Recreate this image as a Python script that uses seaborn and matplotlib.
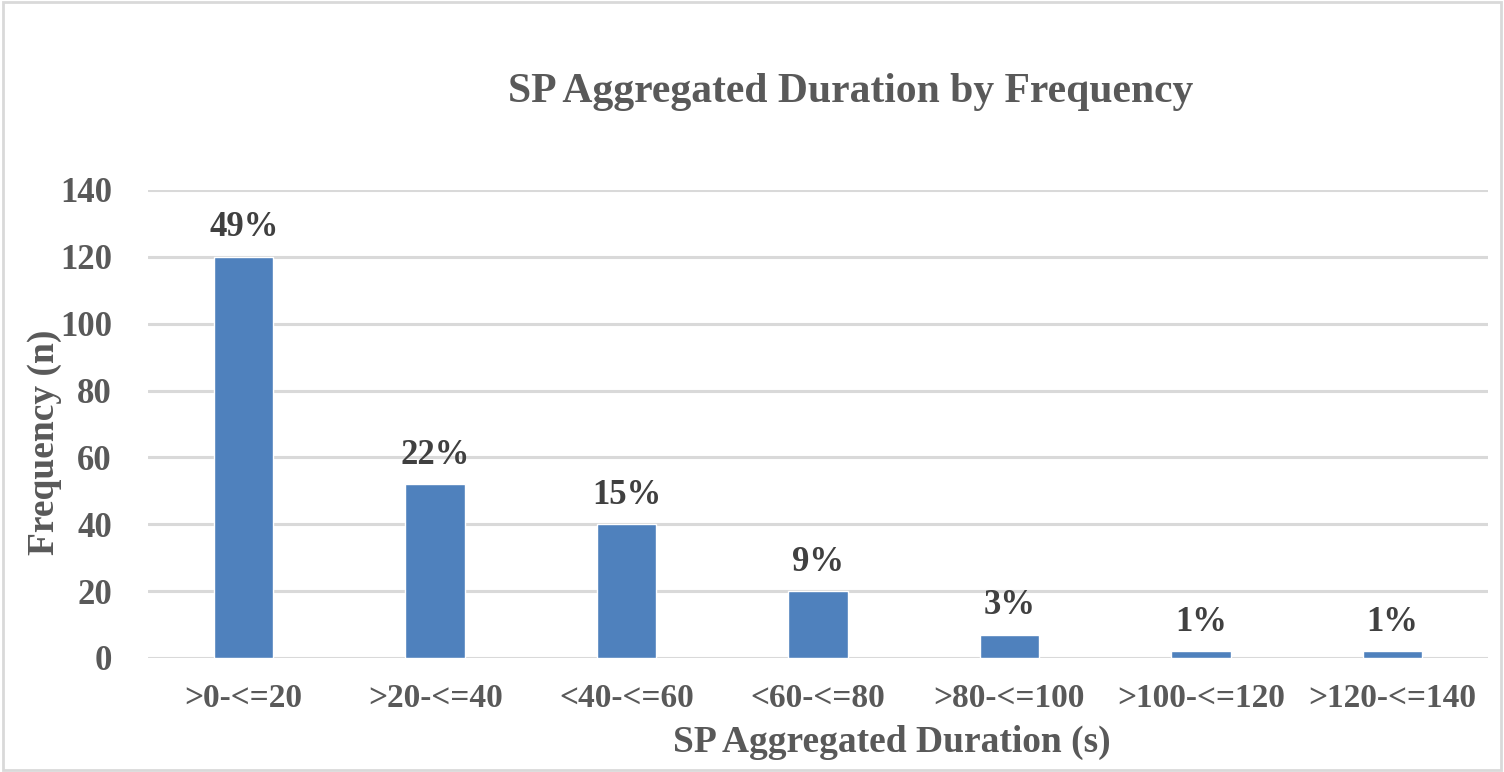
import matplotlib
matplotlib.use("Agg")
import matplotlib.pyplot as plt
import seaborn as sns
import pandas as pd
from matplotlib.patches import Rectangle

categories = [">0-<=20", ">20-<=40", "<40-<=60", "<60-<=80", ">80-<=100", ">100-<=120", ">120-<=140"]
frequency = [120, 52, 40, 20, 7, 2, 2]
pct_labels = ["49%", "22%", "15%", "9%", "3%", "1%", "1%"]
y_ticks = [0, 20, 40, 60, 80, 100, 120, 140]

df = pd.DataFrame({"cat": categories, "freq": frequency})

sns.set_theme(style="white")
plt.rcParams["font.family"] = ["Liberation Serif", "DejaVu Serif"]
plt.rcParams["font.weight"] = "bold"

fig = plt.figure(figsize=(15.04, 7.72), dpi=100)
ax = fig.add_axes([148/1504, 1 - 658/772, (1488-148)/1504, (658-190)/772])

sns.barplot(data=df, x="cat", y="freq", color="#4F81BD", saturation=1, width=0.31, ax=ax, zorder=3)

ax.set_ylim(0, 140)
ax.set_xlim(-0.5, 6.5)
ax.set_yticks(y_ticks)
ax.yaxis.grid(True, color="#D9D9D9", linewidth=2.2, zorder=0)
ax.set_axisbelow(True)
for s in ax.spines.values():
    s.set_visible(False)
ax.tick_params(axis="both", length=0, colors="#595959")
for t in ax.get_yticklabels():
    t.set_fontsize(25); t.set_fontweight("bold")
for t in ax.get_xticklabels():
    t.set_fontsize(24); t.set_fontweight("bold")
ax.tick_params(axis="y", pad=26)
ax.tick_params(axis="x", pad=18)

ax.set_xlabel("SP Aggregated Duration (s)", fontsize=27, fontweight="bold", color="#595959")
ax.xaxis.set_label_coords((892-148)/(1488-148), -(742-658)/(658-190))
ax.xaxis.label.set_va("center")
ax.set_ylabel("Frequency (n)", fontsize=27, fontweight="bold", color="#595959")
ax.yaxis.set_label_coords(-(148-45)/(1488-148), (658-442)/(658-190))
ax.yaxis.label.set_va("center")

for i, (v, lab) in enumerate(zip(frequency, pct_labels)):
    ax.annotate(lab, (i, v), xytext=(0, 9), textcoords="offset points",
                ha="center", va="bottom", fontsize=25, fontweight="bold", color="#404040")

fig.text(851/1504, 1 - 92/772, "SP Aggregated Duration by Frequency", ha="center", va="center",
         fontsize=30, fontweight="bold", color="#595959")

fig.patches.append(Rectangle((0.002, 0.003), 0.996, 0.994, transform=fig.transFigure,
                             fill=False, edgecolor="#D9D9D9", linewidth=2))

fig.savefig("out.png", dpi=100)
